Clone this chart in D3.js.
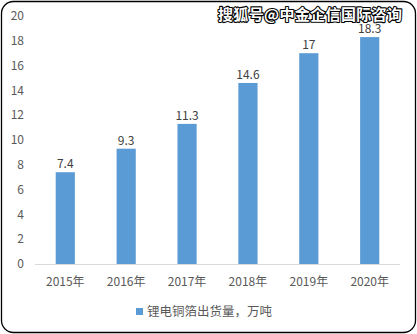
<!DOCTYPE html>
<html><head><meta charset="utf-8">
<script src="https://cdn.jsdelivr.net/npm/d3@7"></script>
<style>body{margin:0;background:#fff}svg{display:block}</style>
</head><body>
<script>
const categories = ["2015年","2016年","2017年","2018年","2019年","2020年"];
const values = [7.4, 9.3, 11.3, 14.6, 17, 18.3];
const valueLabels = ["7.4","9.3","11.3","14.6","17","18.3"];
const yTicks = [0,2,4,6,8,10,12,14,16,18,20];
const seriesName = "锂电铜箔出货量，万吨";
const watermark = "搜狐号@中金企信国际咨询";

const W = 417, H = 334;
const font = "'Noto Sans CJK SC','Liberation Sans',sans-serif";
const svg = d3.select("body").append("svg").attr("width", W).attr("height", H);
svg.append("rect").attr("width", W).attr("height", H).attr("fill", "#fff");
svg.append("rect").attr("x", 1.5).attr("y", 1.5).attr("width", W - 3).attr("height", H - 3)
  .attr("rx", 12).attr("fill", "#fff").attr("stroke", "#000").attr("stroke-width", 1.3);

const x = d3.scaleBand().domain(categories).range([35, 400]).paddingInner(0.685).paddingOuter(0.34);
const y = d3.scaleLinear().domain([0, 20]).range([264, 16]);

// y tick labels
svg.append("g").selectAll("text").data(yTicks).join("text")
  .attr("x", 24).attr("y", d => y(d)).attr("dy", "0.35em")
  .attr("text-anchor", "end").attr("font-family", font).attr("font-size", 12)
  .attr("fill", "#595959").text(d => d);

// bars
svg.append("g").selectAll("rect").data(values).join("rect")
  .attr("x", (d, i) => x(categories[i])).attr("width", x.bandwidth())
  .attr("y", d => y(d)).attr("height", d => y(0) - y(d)).attr("fill", "#5B9BD5");

// axis line
svg.append("line").attr("x1", 35).attr("x2", 400).attr("y1", y(0) + 0.5).attr("y2", y(0) + 0.5)
  .attr("stroke", "#d9d9d9").attr("stroke-width", 1);

// value labels
svg.append("g").selectAll("text").data(values).join("text")
  .attr("x", (d, i) => x(categories[i]) + x.bandwidth() / 2).attr("y", d => y(d) - 4)
  .attr("text-anchor", "middle").attr("font-family", font).attr("font-size", 12)
  .attr("fill", "#404040").text((d, i) => valueLabels[i]);

// x labels
svg.append("g").selectAll("text").data(categories).join("text")
  .attr("x", d => x(d) + x.bandwidth() / 2).attr("y", 282).attr("dy", "0.35em")
  .attr("text-anchor", "middle").attr("font-family", font).attr("font-size", 12)
  .attr("fill", "#595959").text(d => d);

// legend
svg.append("rect").attr("x", 136).attr("y", 308).attr("width", 7).attr("height", 7).attr("fill", "#5B9BD5");
svg.append("text").attr("x", 147).attr("y", 312).attr("dy", "0.35em")
  .attr("font-family", font).attr("font-size", 12.5).attr("fill", "#595959").text(seriesName);

// watermark
svg.append("text").attr("x", 402).attr("y", 14.5).attr("dy", "0.35em").attr("text-anchor", "end")
  .attr("font-family", font).attr("font-size", 15).attr("font-weight", "bold")
  .attr("textLength", 184).attr("lengthAdjust", "spacing")
  .attr("fill", "#fff").attr("stroke", "#000").attr("stroke-width", 2.2).attr("paint-order", "stroke")
  .attr("stroke-linejoin", "round").text(watermark);
</script>
</body></html>
